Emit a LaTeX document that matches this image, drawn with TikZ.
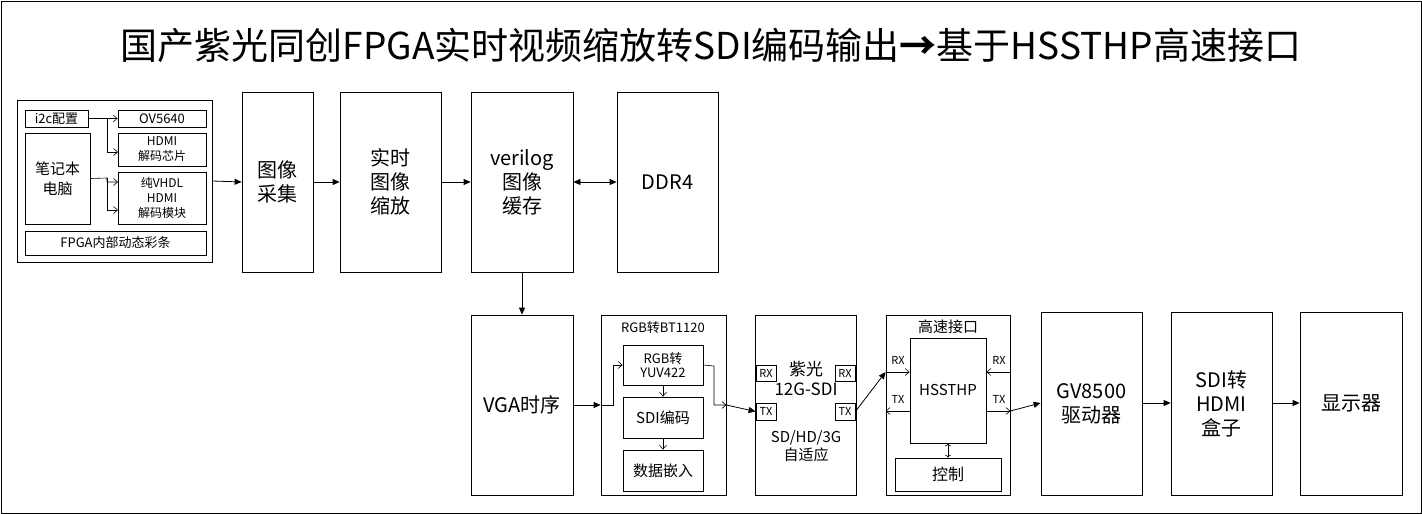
\documentclass[tikz,border=0pt]{standalone}
\usepackage{fontspec}
\setmainfont{Noto Sans CJK SC}
\usetikzlibrary{arrows.meta}
\begin{document}
\begin{tikzpicture}[x=1pt,y=-1pt,
 bx/.style={draw,thick,align=center,inner sep=0pt},
 bb/.style n args={4}{at={({(#1+#3)/2},{(#2+#4)/2})},minimum width={(#3-#1)*1pt},minimum height={(#4-#2)*1pt}},
 sm/.style={font=\fontsize{13}{14}\selectfont},
 tiny/.style={font=\fontsize{12}{15}\selectfont},
 big/.style={font=\fontsize{20}{24}\selectfont},
 fa/.style={-{Triangle[length=7pt,width=6pt]},thick},
 oa/.style={-{Straight Barb[length=4pt,width=7pt]},semithick}]
\useasboundingbox (0,0) rectangle (1422,514);
\draw[thick] (1,1) rectangle (1421,513);
\node[font=\fontsize{37}{40}\selectfont] (title) at (711,45) {国产紫光同创FPGA实时视频缩放转SDI编码输出\textbf{→}基于HSSTHP高速接口};
% left group
\node[bx,bb={17}{100}{212}{262}] (grp) {};
\node[bx,sm,bb={25}{110}{88}{127}] (i2c) {i2c配置};
\node[bx,sm,bb={118}{110}{206}{127}] (ov) {OV5640};
\node[bx,tiny,bb={118}{133}{206}{166}] (hdc) {HDMI\\解码芯片};
\node[bx,tiny,bb={118}{172}{206}{224}] (vh) {纯VHDL\\HDMI\\解码模块};
\node[bx,font=\fontsize{15}{20}\selectfont,bb={25}{133}{90}{224}] (pc) {笔记本\\电脑};
\node[bx,sm,bb={25}{231}{206}{255}] (cb) {FPGA内部动态彩条};
\coordinate (b1) at (107,118); \coordinate (b2) at (107,178);
\draw[oa] (i2c.east) -- (ov.west);
\draw[oa] (b1) |- (118,152);
\draw[oa] (pc.east) -- (b2) |- (118,182);
\draw[oa] (b2) |- (118,210);
% top row
\node[bx,big,bb={242}{92}{313}{272}] (cap) {图像\\采集};
\node[bx,big,bb={340}{92}{441}{272}] (sc) {实时\\图像\\缩放};
\node[bx,big,bb={471}{92}{573}{272}] (buf) {verilog\\图像\\缓存};
\node[bx,big,bb={617}{92}{718}{272}] (ddr) {DDR4};
\draw[fa] (grp.east) -- (cap.west);
\draw[fa] (cap.east) -- (sc.west);
\draw[fa] (sc.east) -- (buf.west);
\draw[{Triangle[length=7pt,width=6pt]}-{Triangle[length=7pt,width=6pt]},thick] (buf.east) -- (ddr.west);
% bottom row
\node[bx,big,bb={471}{315}{573}{495}] (vga) {VGA时序};
\draw[fa] (buf.south) -- (vga.north);
\node[bx,bb={601}{315}{726}{495}] (bt) {};
\node[sm] at (663,328) {RGB转BT1120};
\node[bx,sm,bb={623}{345}{703}{385}] (yuv) {RGB转\\YUV422};
\node[bx,font=\fontsize{15}{18}\selectfont,bb={623}{397}{703}{438}] (enc) {SDI编码};
\node[bx,font=\fontsize{15}{18}\selectfont,bb={623}{450}{703}{491}] (emb) {数据嵌入};
\draw[fa] (vga.east|-0,405) -- (bt.west|-0,405);
\draw[oa] (bt.west|-0,405) -- (613,405) |- (yuv.west);
\draw[oa] (yuv.south) -- (enc.north);
\draw[oa] (enc.south) -- (emb.north);
\draw[oa] (yuv.east) -- (714,366) |- (bt.east|-0,405);
\node[bx,bb={755}{315}{856}{495}] (sdi) {};
\node[font=\fontsize{17}{20}\selectfont,align=center] at (806,378) {紫光\\12G-SDI};
\node[font=\fontsize{15}{18}\selectfont,align=center] at (806,446) {SD/HD/3G\\自适应};
\node[bx,font=\fontsize{11}{12}\selectfont,bb={756}{365}{776}{381}] (rxl) {RX};
\node[bx,font=\fontsize{11}{12}\selectfont,bb={835}{365}{855}{381}] (rxr) {RX};
\node[bx,font=\fontsize{11}{12}\selectfont,bb={756}{403}{776}{420}] (txl) {TX};
\node[bx,font=\fontsize{11}{12}\selectfont,bb={835}{403}{855}{420}] (txr) {TX};
\draw[fa] (bt.east|-0,405) -- (txl.west);
\node[bx,bb={886}{315}{1010}{495}] (hs) {};
\node[font=\fontsize{15}{18}\selectfont] at (948,327) {高速接口};
\node[bx,bb={910}{338}{986}{443}] (hp) {};
\node[font=\fontsize{15}{18}\selectfont] at (948,390) {HSSTHP};
\node[bx,font=\fontsize{16}{18}\selectfont,bb={895}{458}{1001}{491}] (ctl) {控制};
\draw[<->,semithick] (hp.south) -- (ctl.north);
\draw[fa] (txr.east) -- (hs.west|-0,372);
\draw[oa] (hs.west|-0,372) -- (hp.west|-0,372);
\draw[oa] (hp.west|-0,411) -- (hs.west|-0,411);
\draw[oa] (hs.east|-0,372) -- (hp.east|-0,372);
\draw[oa] (hp.east|-0,411) -- (hs.east|-0,411);
\foreach \x/\y/\t in {898/360/RX,898/399/TX,999/360/RX,999/399/TX}
  \node[font=\fontsize{11}{12}\selectfont] at (\x,\y) {\t};
\node[bx,big,bb={1041}{312}{1142}{495}] (gv) {GV8500\\驱动器};
\node[bx,big,bb={1171}{312}{1272}{495}] (s2h) {SDI转\\HDMI\\盒子};
\node[bx,big,bb={1300}{312}{1402}{495}] (disp) {显示器};
\draw[fa] (hs.east|-0,411) -- (gv.west|-0,403);
\draw[fa] (gv.east|-0,403) -- (s2h.west|-0,403);
\draw[fa] (s2h.east|-0,403) -- (disp.west|-0,403);
\end{tikzpicture}
\end{document}
